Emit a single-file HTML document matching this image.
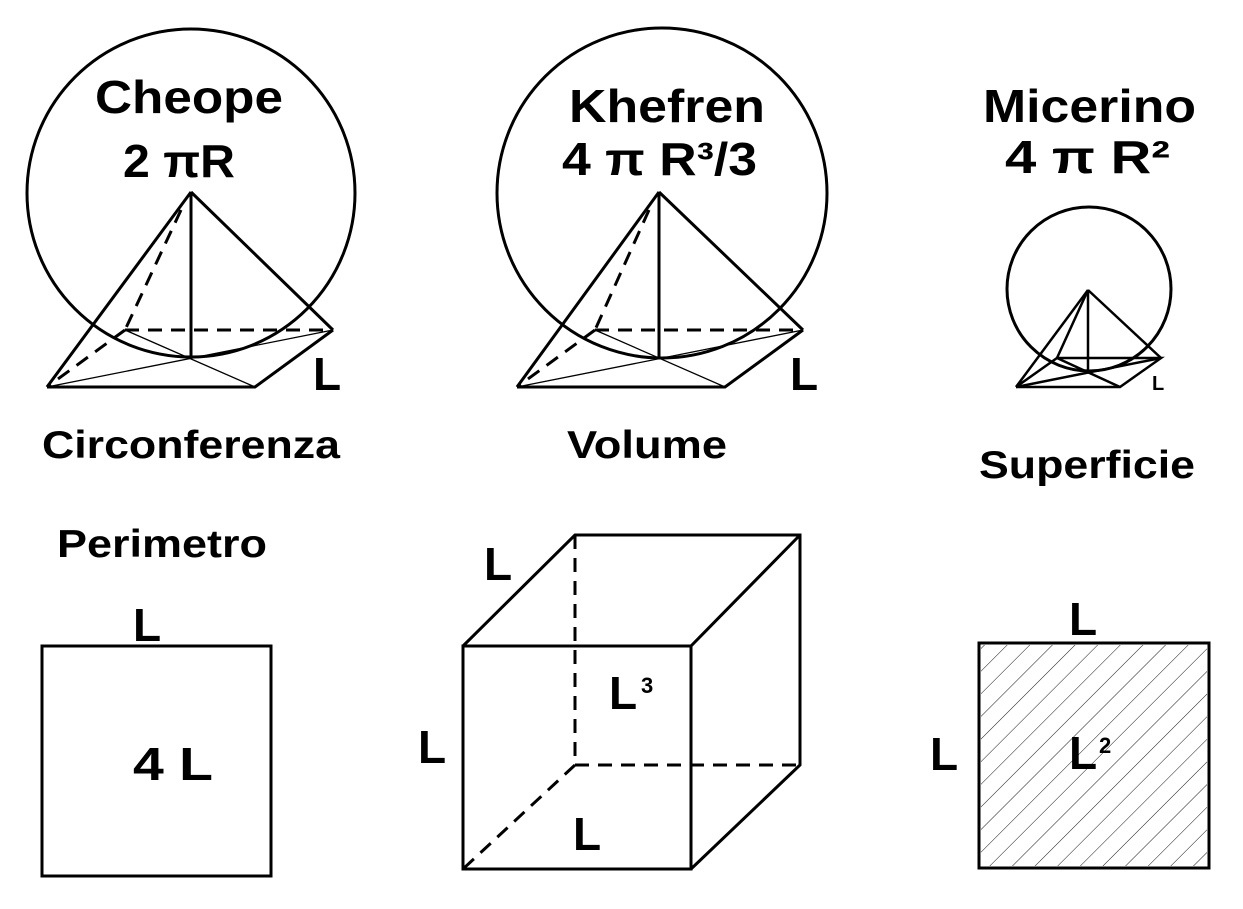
<!DOCTYPE html>
<html><head><meta charset="utf-8"><style>
html,body{margin:0;padding:0;background:#fff;}
svg{display:block;}
text{font-family:"Liberation Sans",Arial,sans-serif;font-weight:bold;fill:#000;}
</style></head><body>
<svg width="1243" height="909" viewBox="0 0 1243 909" xmlns="http://www.w3.org/2000/svg">
<defs>
<pattern id="h" patternUnits="userSpaceOnUse" width="16" height="16" patternTransform="rotate(45)">
<line x1="0" y1="0" x2="0" y2="16" stroke="#000" stroke-width="0.9"/>
</pattern>
<clipPath id="c"><rect x="981" y="645" width="226" height="221"/></clipPath>
</defs>
<g fill="none" stroke="#000">
<circle cx="191" cy="193" r="164" stroke-width="3"/>
<g stroke-width="3">
<line x1="191" y1="192" x2="47" y2="387"/>
<line x1="191" y1="192" x2="333" y2="330"/>
<line x1="191" y1="192" x2="191" y2="357"/>
<polyline points="47,387 255,387 333,330"/>
</g>
<g stroke-width="3" stroke-dasharray="14,9">
<line x1="181" y1="210" x2="125" y2="330"/>
<line x1="125" y1="330" x2="333" y2="330"/>
<line x1="125" y1="330" x2="47" y2="387"/>
</g>
<g stroke-width="1.3">
<line x1="47" y1="387" x2="333" y2="330"/>
<line x1="125" y1="330" x2="255" y2="387"/>
</g>
<circle cx="662" cy="193" r="165" stroke-width="3"/>
<g stroke-width="3">
<line x1="659" y1="192" x2="517" y2="387"/>
<line x1="659" y1="192" x2="803" y2="330"/>
<line x1="659" y1="192" x2="659" y2="357"/>
<polyline points="517,387 725,387 803,330"/>
</g>
<g stroke-width="3" stroke-dasharray="14,9">
<line x1="649" y1="210" x2="595" y2="330"/>
<line x1="595" y1="330" x2="803" y2="330"/>
<line x1="595" y1="330" x2="517" y2="387"/>
</g>
<g stroke-width="1.3">
<line x1="517" y1="387" x2="803" y2="330"/>
<line x1="595" y1="330" x2="725" y2="387"/>
</g>
<circle cx="1089" cy="289" r="82" stroke-width="3"/>
<g stroke-width="2.5">
<line x1="1088" y1="290" x2="1016" y2="387"/>
<line x1="1088" y1="290" x2="1161" y2="358"/>
<line x1="1088" y1="290" x2="1088" y2="372"/>
<line x1="1088" y1="290" x2="1057" y2="358"/>
<polyline points="1016,387 1120,387 1161,358 1057,358 1016,387"/>
<line x1="1016" y1="387" x2="1161" y2="358"/>
<line x1="1057" y1="358" x2="1120" y2="387"/>
</g>
<rect x="42" y="646" width="229" height="230" stroke-width="3"/>
<g stroke-width="3">
<rect x="463" y="646" width="228" height="223"/>
<polyline points="463,646 575,535 800,535 800,765 691,869"/>
<line x1="691" y1="646" x2="800" y2="535"/>
</g>
<g stroke-width="3" stroke-dasharray="14,9">
<line x1="575" y1="535" x2="575" y2="765"/>
<line x1="575" y1="765" x2="800" y2="765"/>
<line x1="575" y1="765" x2="463" y2="869"/>
</g>
<rect x="979" y="643" width="230" height="225" fill="url(#h)" stroke="none" clip-path="url(#c)"/>
<rect x="979" y="643" width="230" height="225" stroke-width="3"/>
</g>
<g font-size="46">
<text x="95" y="113" textLength="188" lengthAdjust="spacingAndGlyphs">Cheope</text>
<text x="123" y="177" textLength="112" lengthAdjust="spacingAndGlyphs">2 πR</text>
<text x="569" y="122" textLength="196" lengthAdjust="spacingAndGlyphs">Khefren</text>
<text x="562" y="175" textLength="195" lengthAdjust="spacingAndGlyphs">4 π R³/3</text>
<text x="983" y="122" textLength="213" lengthAdjust="spacingAndGlyphs">Micerino</text>
<text x="1005" y="173" textLength="165" lengthAdjust="spacingAndGlyphs">4 π R²</text>
</g>
<g font-size="39">
<text x="42" y="458" textLength="298" lengthAdjust="spacingAndGlyphs">Circonferenza</text>
<text x="567" y="458" textLength="160" lengthAdjust="spacingAndGlyphs">Volume</text>
<text x="979" y="478" textLength="216" lengthAdjust="spacingAndGlyphs">Superficie</text>
<text x="57" y="557" textLength="210" lengthAdjust="spacingAndGlyphs">Perimetro</text>
</g>
<g font-size="46">
<text x="313" y="390">L</text>
<text x="790" y="390">L</text>
<text x="1152" y="390" font-size="20">L</text>
<text x="133" y="641">L</text>
<text x="133" y="780" textLength="80" lengthAdjust="spacingAndGlyphs">4 L</text>
<text x="484" y="580">L</text>
<text x="418" y="763">L</text>
<text x="609" y="709">L</text><text x="641" y="693" font-size="22">3</text>
<text x="573" y="850">L</text>
<text x="1069" y="635">L</text>
<text x="930" y="770">L</text>
<text x="1069" y="769">L</text><text x="1099" y="753" font-size="22">2</text>
</g>
</svg>
</body></html>
